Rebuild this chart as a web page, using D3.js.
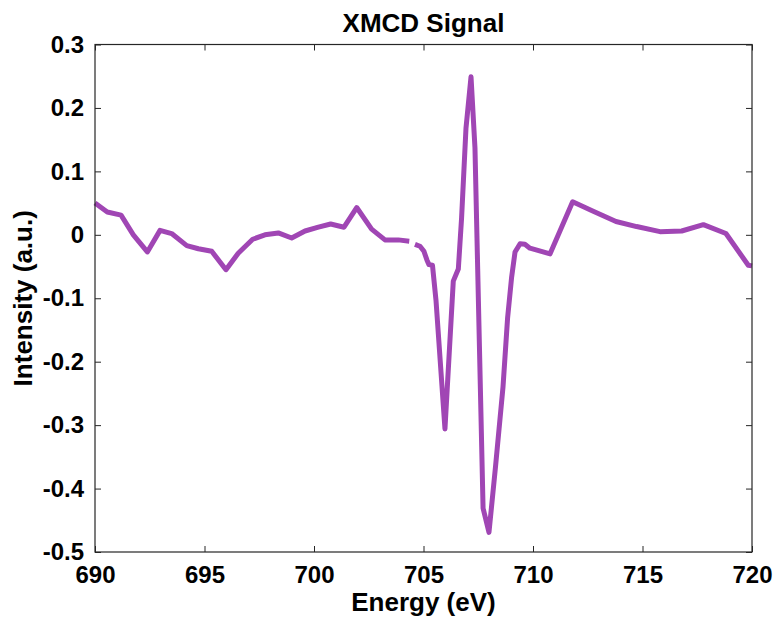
<!DOCTYPE html>
<html>
<head>
<meta charset="utf-8">
<script src="https://cdn.jsdelivr.net/npm/d3@7"></script>
<style>
  body { margin: 0; background: #fff; }
  svg { display: block; font-family: "Liberation Sans", Arial, sans-serif; font-weight: bold; }
</style>
</head>
<body>
<div id="chart"></div>
<script>
"use strict";

// energy (eV) and XMCD intensity, null marks the break in the trace
const energy = [
  690.0, 690.56, 691.19, 691.75, 692.39, 692.97, 693.50, 694.19, 694.72, 695.33,
  695.98, 696.54, 697.20, 697.76, 698.37, 698.98, 699.59, 700.20, 700.76, 701.37,
  701.95, 702.63, 703.24, 703.85, 704.35, 704.48, 704.61, 704.84, 705.02, 705.16,
  705.25, 705.41, 705.57, 705.98, 706.36, 706.59, 706.74, 706.94, 707.17, 707.35,
  707.72, 707.99, 708.29, 708.63, 708.84, 709.02, 709.18, 709.41, 709.63, 709.86,
  710.78, 711.81, 712.75, 713.79, 714.73, 715.80, 716.79, 717.78, 718.81, 719.83,
  720.0
];
const intensity = [
  0.050, 0.036, 0.031, 0.000, -0.027, 0.007, 0.002, -0.017, -0.022, -0.026,
  -0.055, -0.029, -0.007, 0.000, 0.003, -0.005, 0.006, 0.012, 0.017, 0.012,
  0.043, 0.009, -0.008, -0.008, -0.010, null, -0.015, -0.018, -0.026, -0.040,
  -0.047, -0.048, -0.103, -0.306, -0.073, -0.054, 0.027, 0.168, 0.249, 0.137,
  -0.431, -0.469, -0.365, -0.240, -0.131, -0.068, -0.027, -0.014, -0.015, -0.021,
  -0.030, 0.052, 0.037, 0.021, 0.013, 0.005, 0.006, 0.016, 0.002, -0.048,
  -0.049
];
const xTicks = [690, 695, 700, 705, 710, 715, 720];
const yTicks = [0.3, 0.2, 0.1, 0, -0.1, -0.2, -0.3, -0.4, -0.5];

const WIDTH = 774;
const HEIGHT = 617;
const margin = {top: 44.5, right: 22, bottom: 65, left: 95};
const innerW = WIDTH - margin.left - margin.right;
const innerH = HEIGHT - margin.top - margin.bottom;
const TICK = 6;
const AXIS_COLOR = "#262626";
const LINE_COLOR = "#a046b4";

const svg = d3.select("#chart").append("svg")
    .attr("width", WIDTH)
    .attr("height", HEIGHT);

const g = svg.append("g")
    .attr("transform", "translate(" + margin.left + "," + margin.top + ")");

const x = d3.scaleLinear().domain([690, 720]).range([0, innerW]);
const y = d3.scaleLinear().domain([-0.5, 0.3]).range([innerH, 0]);

const data = energy.map(function (e, i) {
    return {e: e, v: intensity[i]};
});

const line = d3.line()
    .defined(function (d) { return d.v !== null; })
    .x(function (d) { return x(d.e); })
    .y(function (d) { return y(d.v); });

g.append("path")
    .datum(data)
    .attr("fill", "none")
    .attr("stroke", LINE_COLOR)
    .attr("stroke-width", 5)
    .attr("stroke-linejoin", "round")
    .attr("stroke-linecap", "butt")
    .attr("d", line);

function styleAxis(sel) {
    sel.select(".domain").remove();
    sel.selectAll(".tick line").attr("stroke", AXIS_COLOR);
    sel.selectAll(".tick text")
        .attr("fill", "#000")
        .style("font-size", "24px")
        .style("font-weight", "bold")
        .style("font-family", "'Liberation Sans', Arial, sans-serif");
}

const fmtY = function (d) {
    return d === 0 ? "0" : d3.format(".1f")(d).replace("\u2212", "-");
};

// bottom / top axes, ticks pointing inward
g.append("g")
    .attr("transform", "translate(0," + innerH + ")")
    .call(d3.axisBottom(x).tickValues(xTicks).tickSize(-TICK).tickPadding(14))
    .call(styleAxis);
g.append("g")
    .call(d3.axisTop(x).tickValues(xTicks).tickSize(-TICK).tickFormat(""))
    .call(styleAxis);

// left / right axes
g.append("g")
    .call(d3.axisLeft(y).tickValues(yTicks).tickSize(-TICK).tickPadding(11).tickFormat(fmtY))
    .call(styleAxis);
g.append("g")
    .attr("transform", "translate(" + innerW + ",0)")
    .call(d3.axisRight(y).tickValues(yTicks).tickSize(-TICK).tickFormat(""))
    .call(styleAxis);

// frame
g.append("rect")
    .attr("x", 0)
    .attr("y", 0)
    .attr("width", innerW)
    .attr("height", innerH)
    .attr("fill", "none")
    .attr("stroke", AXIS_COLOR)
    .attr("stroke-width", 1.2);

svg.append("text")
    .attr("x", margin.left + innerW / 2)
    .attr("y", 32)
    .attr("text-anchor", "middle")
    .style("font-size", "26px")
    .text("XMCD Signal");

svg.append("text")
    .attr("x", margin.left + innerW / 2)
    .attr("y", 611)
    .attr("text-anchor", "middle")
    .style("font-size", "26px")
    .text("Energy (eV)");

svg.append("text")
    .attr("transform", "translate(32," + (margin.top + innerH / 2) + ") rotate(-90)")
    .attr("text-anchor", "middle")
    .style("font-size", "26px")
    .text("Intensity (a.u.)");
</script>
</body>
</html>
